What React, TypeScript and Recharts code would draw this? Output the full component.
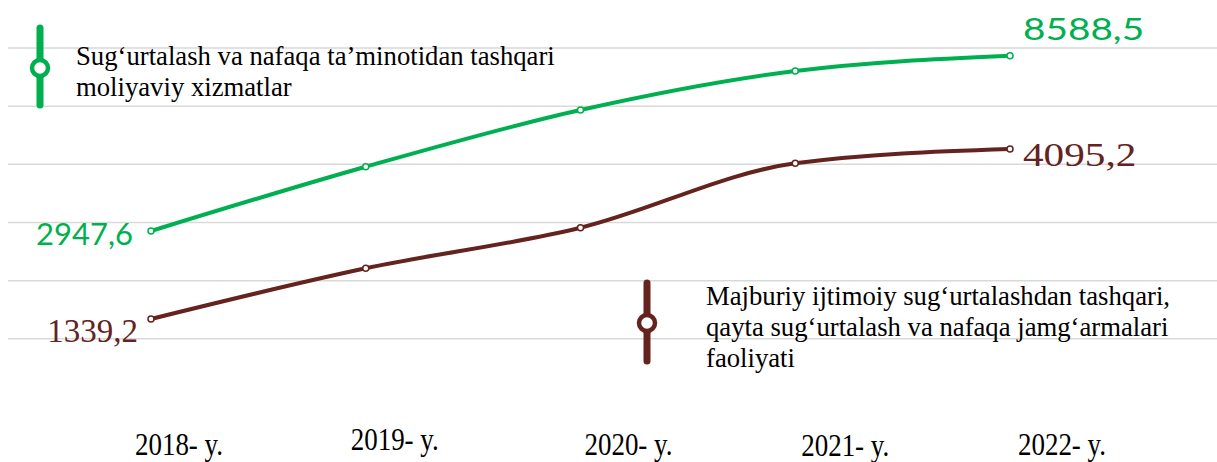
import { CartesianGrid, LabelList, Legend, Line, LineChart, XAxis, YAxis } from 'recharts';

const W = 1217;
const H = 462;

const GREEN = '#00b050';
const BROWN = '#64231f';

const years = ['2018- y.', '2019- y.', '2020- y.', '2021- y.', '2022- y.'];
const financialServices = [2947.6, 5017, 6842, 8097, 8588.5];
const pensionActivity = [1339.2, 2161, 2819, 3863, 4095.2];
const gridTicks = [1, 2, 3, 4, 5, 6];
const GRID_MAX = 6;

const greenName = ['Sug‘urtalash va nafaqa ta’minotidan tashqari', 'moliyaviy xizmatlar'];
const brownName = [
  'Majburiy ijtimoiy sug‘urtalashdan tashqari,',
  'qayta sug‘urtalash va nafaqa jamg‘armalari',
  'faoliyati',
];

const data = years.map((year, i) => ({
  year,
  green: financialServices[i],
  brown: pensionActivity[i],
}));

const fmt = (v: number) => String(v).replace('.', ',');

// tick labels sit a little off their points, like separate text boxes in the source
const TICK_DX = [28, 29, 48, 50, 52];
const TICK_DY = [58, 53, 58, 59, 58];

function YearTick(props: any) {
  const { x, y, payload, index } = props;
  return (
    <g transform={`translate(${x + TICK_DX[index]},${y + TICK_DY[index]}) scale(1,1.2)`}>
      <text textAnchor="middle" fontFamily="'Liberation Serif', serif" fontSize={27} fill="#000">
        {payload.value}
      </text>
    </g>
  );
}

// end labels in the source are stretched wider than the start ones
function endLabel(x: number, y: number, first: boolean, text: string, color: string, font: string, size: number) {
  if (first) {
    return (
      <text x={x} y={y} textAnchor="end" fontFamily={font} fontSize={size} fill={color}>
        {text}
      </text>
    );
  }
  return (
    <g transform={`translate(${x},${y}) scale(1.25,1)`}>
      <text textAnchor="start" fontFamily={font} fontSize={size} fill={color}>
        {text}
      </text>
    </g>
  );
}

function greenLabel(props: any) {
  const { x, y, index, value } = props;
  if (index !== 0 && index !== years.length - 1) return null;
  const first = index === 0;
  return endLabel(
    first ? x - 18 : x + 13,
    first ? y + 14 : y - 16,
    first,
    fmt(value),
    GREEN,
    "Lato, 'Liberation Sans', sans-serif",
    31,
  );
}

function brownLabel(props: any) {
  const { x, y, index, value } = props;
  if (index !== 0 && index !== years.length - 1) return null;
  const first = index === 0;
  return endLabel(
    first ? x - 13 : x + 13,
    first ? y + 23 : y + 17,
    first,
    fmt(value),
    BROWN,
    "'Liberation Serif', serif",
    33,
  );
}

function LegendMarker({ cx, top, bottom, cy, color }: { cx: number; top: number; bottom: number; cy: number; color: string }) {
  return (
    <g>
      <line x1={cx} x2={cx} y1={top} y2={bottom} stroke={color} strokeWidth={7} strokeLinecap="round" />
      <circle cx={cx} cy={cy} r={8} fill="#fff" stroke={color} strokeWidth={4.5} />
    </g>
  );
}

function LegendBlock() {
  const textStyle = { fontFamily: "'Liberation Serif', serif", fontSize: 26.7, fill: '#000' };
  return (
    <svg width={W} height={H} style={{ display: 'block' }}>
      <LegendMarker cx={40} top={28} bottom={105} cy={68} color={GREEN} />
      {greenName.map((t, i) => (
        <text key={t} x={76} y={65 + i * 31} style={textStyle}>
          {t}
        </text>
      ))}
      <LegendMarker cx={647} top={283} bottom={361} cy={323} color={BROWN} />
      {brownName.map((t, i) => (
        <text key={t} x={706} y={305 + i * 31} style={textStyle}>
          {t}
        </text>
      ))}
    </svg>
  );
}

// grid rows at the grid-axis ticks, leaving out the baseline (the source has no line at 0)
function gridRows(args: any) {
  const off = args?.offset ?? {};
  const top = off.top ?? 48;
  const h = off.height ?? 349;
  return gridTicks.map((t) => top + h * (1 - t / GRID_MAX));
}

export default function App() {
  return (
    <div style={{ position: 'absolute', left: 0, top: 0, width: W, height: H, background: '#fff' }}>
      <LineChart width={W} height={H} data={data} margin={{ top: 48, right: 0, bottom: 0, left: 8 }}>
        <CartesianGrid
          yAxisId="grid"
          vertical={false}
          stroke="#d9d9d9"
          strokeWidth={1.5}
          horizontalCoordinatesGenerator={gridRows}
        />
        <XAxis
          dataKey="year"
          height={65}
          padding={{ left: 143, right: 207 }}
          axisLine={false}
          tickLine={false}
          tickSize={0}
          tickMargin={0}
          interval={0}
          tick={<YearTick />}
        />
        <YAxis yAxisId="grid" hide type="number" domain={[0, GRID_MAX]} ticks={gridTicks} allowDataOverflow />
        <YAxis yAxisId="brown" hide type="number" domain={[75, 5732]} allowDataOverflow />
        <YAxis yAxisId="green" hide type="number" domain={[-2394, 8837]} allowDataOverflow />
        <Legend
          layout="vertical"
          align="center"
          verticalAlign="middle"
          wrapperStyle={{ position: 'absolute', left: 0, top: 0, width: W, height: H, pointerEvents: 'none' }}
          content={() => <LegendBlock />}
        />
        <Line
          yAxisId="green"
          dataKey="green"
          type="monotone"
          stroke={GREEN}
          strokeWidth={4}
          dot={{ r: 3, fill: '#fff', stroke: GREEN, strokeWidth: 1.5 }}
          activeDot={false}
          isAnimationActive={false}
        >
          <LabelList dataKey="green" content={greenLabel} />
        </Line>
        <Line
          yAxisId="brown"
          dataKey="brown"
          type="monotone"
          stroke={BROWN}
          strokeWidth={4}
          dot={{ r: 3, fill: '#fff', stroke: BROWN, strokeWidth: 1.5 }}
          activeDot={false}
          isAnimationActive={false}
        >
          <LabelList dataKey="brown" content={brownLabel} />
        </Line>
      </LineChart>
    </div>
  );
}
